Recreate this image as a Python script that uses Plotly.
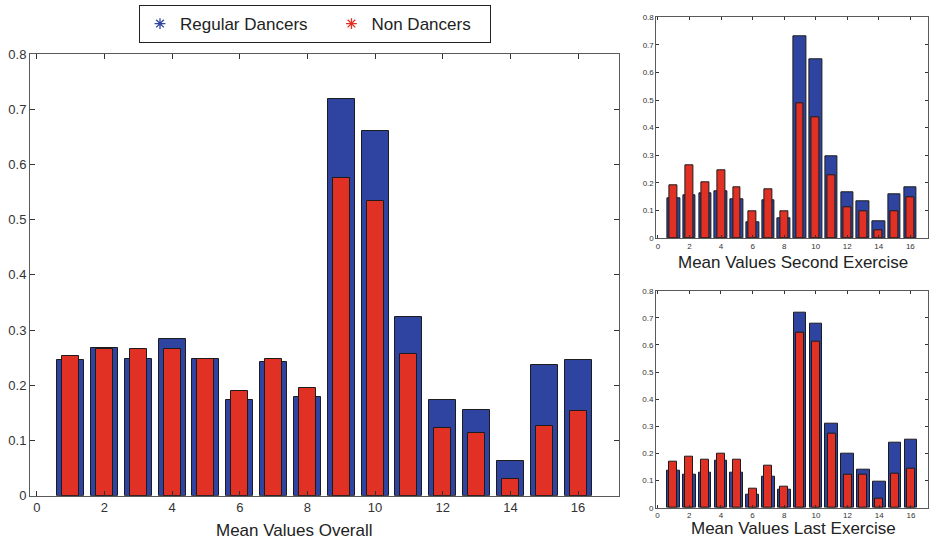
import plotly.graph_objects as go

# ---- data ----
positions = list(range(1, 17))

overall_regular = [0.245, 0.268, 0.248, 0.283, 0.247, 0.173, 0.243, 0.179,
                   0.718, 0.661, 0.323, 0.173, 0.155, 0.063, 0.236, 0.245]
overall_non = [0.253, 0.265, 0.266, 0.265, 0.247, 0.190, 0.248, 0.195,
               0.576, 0.534, 0.257, 0.123, 0.114, 0.031, 0.127, 0.154]

second_regular = [0.143, 0.156, 0.162, 0.168, 0.140, 0.056, 0.135, 0.070,
                  0.732, 0.649, 0.297, 0.164, 0.132, 0.059, 0.160, 0.184]
second_non = [0.191, 0.265, 0.201, 0.245, 0.184, 0.097, 0.176, 0.098,
              0.487, 0.437, 0.227, 0.112, 0.098, 0.029, 0.098, 0.146]

last_regular = [0.138, 0.123, 0.130, 0.172, 0.129, 0.047, 0.116, 0.068,
                0.718, 0.678, 0.310, 0.200, 0.141, 0.097, 0.241, 0.249]
last_non = [0.170, 0.188, 0.178, 0.200, 0.178, 0.071, 0.154, 0.079,
            0.646, 0.612, 0.273, 0.122, 0.122, 0.032, 0.124, 0.145]

y_ticks = [0, 0.1, 0.2, 0.3, 0.4, 0.5, 0.6, 0.7, 0.8]
y_ticktext = ["0", "0.1", "0.2", "0.3", "0.4", "0.5", "0.6", "0.7", "0.8"]
x_ticks = [0, 2, 4, 6, 8, 10, 12, 14, 16]
x_ticktext = ["0", "2", "4", "6", "8", "10", "12", "14", "16"]

series_names = ["Regular Dancers", "Non Dancers"]
panel_titles = ["Mean Values Overall", "Mean Values Second Exercise", "Mean Values Last Exercise"]

# ---- style ----
BLUE = "#2E44A0"
RED = "#E03124"
EDGE = "#1c1c1c"
AXIS = "#5a5a5a"
FONT = "Liberation Sans, Arial, sans-serif"

fig = go.Figure()

panels = [
    (overall_regular, overall_non, "x", "y"),
    (second_regular, second_non, "x2", "y2"),
    (last_regular, last_non, "x3", "y3"),
]
for reg, non, xa, ya in panels:
    fig.add_trace(go.Bar(x=positions, y=reg, width=0.8, xaxis=xa, yaxis=ya,
                         marker=dict(color=BLUE, line=dict(color=EDGE, width=1)),
                         showlegend=False))
    fig.add_trace(go.Bar(x=positions, y=non, width=0.5, xaxis=xa, yaxis=ya,
                         marker=dict(color=RED, line=dict(color=EDGE, width=1)),
                         showlegend=False))

# legend entries (asterisk markers); trailing no-break spaces set the entry spacing
legend_pad = ["\u00a0" * 4, "\u00a0" * 3]
for name, pad, col in zip(series_names, legend_pad, [BLUE, RED]):
    fig.add_trace(go.Scatter(x=[None], y=[None], mode="markers", name=name + pad,
                             marker=dict(symbol="asterisk-open", size=9,
                                         color=col, line=dict(color=col, width=1.3))))

W, H = 929, 539


def xdom(l, r):
    return [l / W, r / W]


def ydom(top, bottom):
    return [1 - bottom / H, 1 - top / H]


def xaxis(dom, size, ticklen, anchor, rng):
    return dict(domain=dom, range=rng, anchor=anchor, tickvals=x_ticks, ticktext=x_ticktext,
                ticks="inside", ticklen=ticklen, tickcolor="#333", showline=True,
                linecolor=AXIS, linewidth=1, mirror="ticks", showgrid=False, zeroline=False,
                automargin=False,
                tickfont=dict(size=size, color="#333", family=FONT))


def yaxis(dom, size, ticklen, anchor):
    return dict(domain=dom, range=[0, 0.8], anchor=anchor, tickvals=y_ticks, ticktext=y_ticktext,
                ticks="inside", ticklen=ticklen, tickcolor="#333", showline=True,
                linecolor=AXIS, linewidth=1, mirror="ticks", showgrid=False, zeroline=False,
                automargin=False,
                tickfont=dict(size=size, color="#333", family=FONT))


def title(text, px, py):
    return dict(text=text, x=px / W, y=1 - py / H, xref="paper", yref="paper",
                xanchor="center", yanchor="middle", showarrow=False,
                font=dict(size=17, family=FONT, color="#222"))


fig.update_layout(
    width=W, height=H,
    margin=dict(l=0, r=0, t=0, b=0, autoexpand=False),
    paper_bgcolor="white", plot_bgcolor="white",
    barmode="overlay", bargap=0,
    font=dict(family=FONT, color="#222"),
    xaxis=xaxis(xdom(30, 618.7), 13, 5, "y", [-0.2, 17.2]),
    yaxis=yaxis(ydom(54, 495.7), 13, 5, "x"),
    xaxis2=xaxis(xdom(656.4, 927.7), 8, 3, "y2", [-0.1, 17.1]),
    yaxis2=yaxis(ydom(17.3, 238), 8, 3, "x2"),
    xaxis3=xaxis(xdom(656, 928.3), 8, 3, "y3", [-0.1, 17.1]),
    yaxis3=yaxis(ydom(290.7, 507.7), 8, 3, "x3"),
    legend=dict(orientation="h", x=139 / W, y=1 - 5 / H, xanchor="left", yanchor="top",
                bordercolor="#222", borderwidth=1, bgcolor="white",
                font=dict(size=17, family=FONT, color="#222"),
                itemwidth=30),
    annotations=[
        title(panel_titles[0], 294.5, 530),
        title(panel_titles[1], 792.5, 262),
        title(panel_titles[2], 793.5, 528),
    ],
)

fig.write_html("out.html", config={"displayModeBar": False},
               post_script="document.body.style.margin='0px';document.body.style.overflow='hidden';")
